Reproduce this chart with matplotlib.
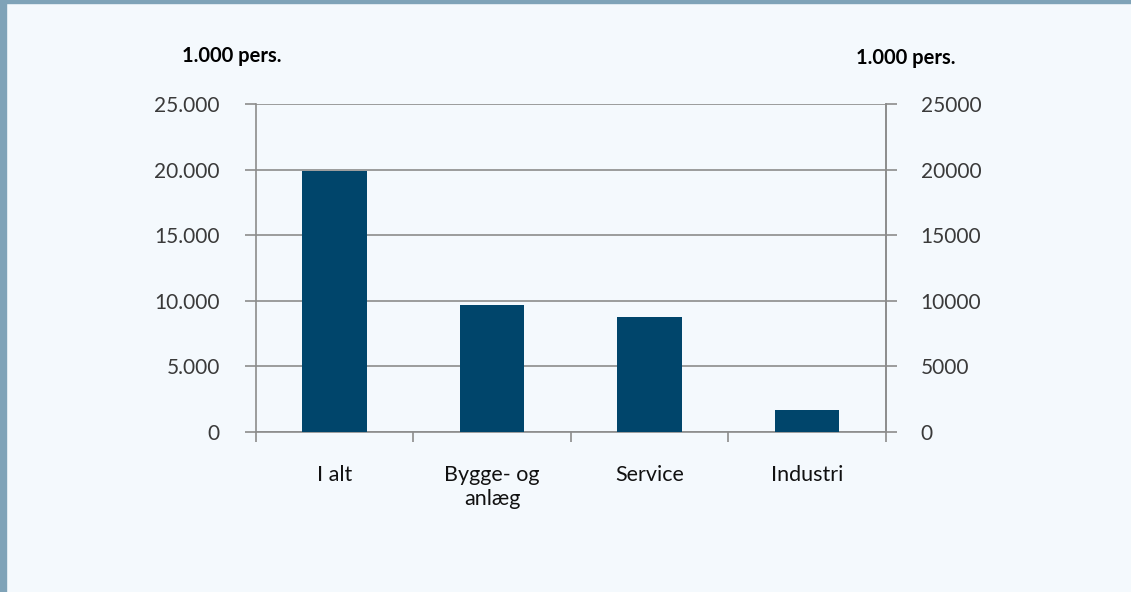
import matplotlib.pyplot as plt
from matplotlib.patches import Rectangle
from matplotlib.ticker import FuncFormatter

# Data
kategorier = ['I alt', 'Bygge- og\nanlæg', 'Service', 'Industri']
personer = [19900, 9650, 8800, 1700]
yticks = [0, 5000, 10000, 15000, 20000, 25000]

plt.rcParams['font.family'] = ['Lato', 'DejaVu Sans']

bg = '#f4f9fd'
grid_col = '#8c8c8c'
bar_col = '#00456b'

fig = plt.figure(figsize=(11.31, 5.92), dpi=100, facecolor=bg)
ax = fig.add_axes([0.2263, 0.2703, 0.557, 0.554])
ax.set_facecolor(bg)

x = range(len(kategorier))
ax.bar(x, personer, width=0.41, color=bar_col, zorder=3)
ax.set_xlim(-0.5, len(kategorier) - 0.5)
ax.set_ylim(0, 25000)
ax.set_yticks(yticks)
ax.yaxis.set_major_formatter(FuncFormatter(lambda v, p: f'{int(v):,}'.replace(',', '.')))
ax.grid(axis='y', color=grid_col, linewidth=1.2, zorder=0)
ax.tick_params(axis='y', length=8, width=1.2, color=grid_col, labelsize=15,
               labelcolor='#3a3a3a', pad=18)

# x-akse: ticks ved kategorigrænser
ax.set_xticks([i - 0.5 for i in range(len(kategorier) + 1)])
ax.set_xticklabels([])
ax.set_xticks(list(x), minor=True)
ax.set_xticklabels(kategorier, minor=True, fontsize=15.5, color='#111111', linespacing=1.2)
ax.tick_params(axis='x', which='major', length=7, width=1.2, color=grid_col, direction='out')
ax.tick_params(axis='x', which='minor', length=0, pad=24)

ax.spines['top'].set_visible(False)
for side in ['left', 'right', 'bottom']:
    ax.spines[side].set_color(grid_col)
    ax.spines[side].set_linewidth(1.2)

ax2 = ax.twinx()
ax2.set_ylim(0, 25000)
ax2.set_yticks(yticks)
ax2.yaxis.set_major_formatter(FuncFormatter(lambda v, p: f'{int(v)}'))
ax2.tick_params(axis='y', length=8, width=1.2, color=grid_col, labelsize=15,
                labelcolor='#3a3a3a', pad=17)
for side in ['top', 'left', 'bottom']:
    ax2.spines[side].set_visible(False)
ax2.spines['right'].set_color(grid_col)
ax2.spines['right'].set_linewidth(1.2)

fig.text(0.2052, 0.906, '1.000 pers.', fontsize=14.5, fontweight='bold', ha='center', va='center')
fig.text(0.8006, 0.902, '1.000 pers.', fontsize=14.5, fontweight='bold', ha='center', va='center')

# ramme
fig.patches.append(Rectangle((0, 0), 6 / 1131, 1, transform=fig.transFigure,
                             color='#7fa3b8', zorder=10))
fig.patches.append(Rectangle((0, 1 - 3 / 592), 1, 3 / 592, transform=fig.transFigure,
                             color='#7fa3b8', zorder=10))

fig.savefig('out.png', dpi=100, facecolor=bg)
